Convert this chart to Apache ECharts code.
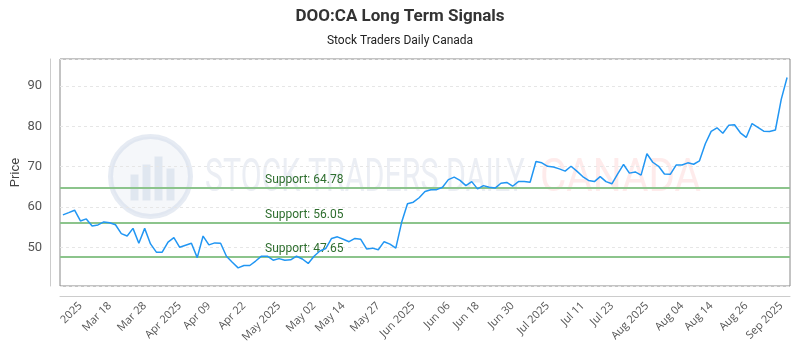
<!DOCTYPE html>
<html><head><meta charset="utf-8">
<script src="https://cdn.jsdelivr.net/npm/echarts@6/dist/echarts.min.js"></script>
<style>html,body{margin:0;padding:0;background:#fff}#c{width:800px;height:350px}</style>
</head><body><div id="c"></div>
<script>
const titleText = 'DOO:CA Long Term Signals';
const subtitleText = 'Stock Traders Daily Canada';
const yAxisName = 'Price';
const prices = [
58.05,58.6,59.2,56.55,57.05,55.3,55.55,56.3,56.1,55.6,
53.4,52.8,54.7,51.0,54.7,50.85,48.8,48.8,51.3,52.4,
50.0,50.5,51.0,47.45,52.8,50.6,51.1,51.0,47.8,46.3,
44.9,45.5,45.5,46.6,47.8,47.8,46.8,47.2,46.8,46.9,
47.8,47.1,46.0,47.8,49.1,49.7,52.2,52.6,52.0,51.4,
52.2,52.0,49.6,49.8,49.4,51.4,50.8,49.8,56.2,60.8,
61.2,62.3,63.85,64.3,64.3,64.9,66.8,67.4,66.6,65.3,
66.3,64.5,65.3,64.9,64.7,65.9,66.1,65.15,66.3,66.3,
66.15,71.3,70.95,70.1,69.9,69.45,68.9,70.1,68.9,67.55,
66.6,66.3,67.55,66.3,65.75,68.2,70.55,68.4,68.7,67.9,
73.2,71.1,70.1,68.2,68.1,70.4,70.4,70.95,70.6,71.45,
75.7,78.75,79.65,78.3,80.25,80.4,78.4,77.25,80.7,79.75,
78.8,78.75,79.1,86.7,92.1
];
const tickLabels = ['2025','Mar 18','Mar 28','Apr 2025','Apr 09','Apr 22','May 2025','May 02','May 14','May 27','Jun 2025','Jun 06','Jun 18','Jun 30','Jul 2025','Jul 11','Jul 23','Aug 2025','Aug 04','Aug 14','Aug 26','Sep 2025'];
const tickIndex = [3,8,14,20,25,31,37,43,48,54,60,66,71,77,83,89,94,100,106,111,117,123];
const supportLevels = [64.78, 56.05, 47.65];

const categories = prices.map((_, i) => {
  const k = tickIndex.indexOf(i);
  return k >= 0 ? tickLabels[k] : '';
});
const yMin = Math.min(...prices) * 0.9;
const yMax = Math.max(...prices) * 1.05;

const chart = echarts.init(document.getElementById('c'), null, {renderer: 'canvas'});
const font = 'Roboto, "Noto Sans", sans-serif';
const wmFont = '46px Roboto, sans-serif';
chart.setOption({
  animation: false,
  backgroundColor: '#fff',
  title: [
    {text: titleText, left: 'center', top: 3, textStyle: {fontFamily: font, fontSize: 17, fontWeight: 'bold', color: '#333'}},
    {text: subtitleText, left: 'center', top: 30, textStyle: {fontFamily: font, fontSize: 12, fontWeight: 'normal', color: '#222'}}
  ],
  graphic: [
    {type: 'group', left: 108, top: 134, silent: true, z: 0, children: [
      {type: 'circle', shape: {cx: 42, cy: 42, r: 40}, style: {fill: 'rgba(225,232,242,0.35)', stroke: 'rgba(205,215,232,0.5)', lineWidth: 5}},
      {type: 'rect', shape: {x: 22, y: 40, width: 8, height: 26}, style: {fill: 'rgba(200,210,228,0.45)'}},
      {type: 'rect', shape: {x: 34, y: 30, width: 8, height: 36}, style: {fill: 'rgba(200,210,228,0.45)'}},
      {type: 'rect', shape: {x: 46, y: 22, width: 8, height: 44}, style: {fill: 'rgba(200,210,228,0.45)'}},
      {type: 'rect', shape: {x: 58, y: 34, width: 8, height: 32}, style: {fill: 'rgba(200,210,228,0.45)'}}
    ]},
    {type: 'text', x: 205, y: 156, scaleX: 0.66, silent: true, z: 0, style: {text: 'STOCK TRADERS DAILY', font: wmFont, fill: 'rgba(215,222,234,0.5)'}},
    {type: 'text', x: 540, y: 156, scaleX: 0.88, silent: true, z: 0, style: {text: 'CANADA', font: wmFont, fill: 'rgba(252,205,205,0.4)'}}
  ],
  grid: {left: 60, right: 10, top: 59, bottom: 64, outerBoundsMode: 'none', containLabel: false, show: true, borderColor: '#888', borderWidth: 1, backgroundColor: 'transparent'},
  xAxis: {
    type: 'category', data: categories, boundaryGap: true, offset: 10,
    axisLine: {show: true, lineStyle: {color: '#ccc'}},
    axisTick: {show: false},
    axisLabel: {rotate: 45, interval: (i) => tickIndex.indexOf(i) >= 0, color: '#555', fontFamily: '"Open Sans", sans-serif', fontSize: 11, margin: 8},
    splitLine: {show: false}
  },
  yAxis: {
    type: 'value', min: yMin, max: yMax, splitNumber: 5, offset: 10,
    name: yAxisName, nameLocation: 'middle', nameGap: 28, nameMoveOverlap: false,
    nameTextStyle: {color: '#444', fontFamily: font, fontSize: 13},
    axisLine: {show: true, lineStyle: {color: '#ccc'}},
    axisTick: {show: false},
    axisLabel: {color: '#555', fontFamily: font, fontSize: 13, showMinLabel: false, showMaxLabel: false},
    splitLine: {show: true, lineStyle: {color: '#e6e6e6', type: [3, 3]}}
  },
  series: [{
    type: 'line', data: prices, showSymbol: false, symbol: 'none', z: 3,
    lineStyle: {color: '#2196f3', width: 1.5},
    markLine: {
      silent: true, symbol: 'none', z: 2,
      lineStyle: {color: '#8cc48c', width: 2, type: 'solid'},
      label: {position: 'insideStartTop', distance: 2, padding: [0, 0, 0, 203], color: '#2e6e2e', fontFamily: font, fontSize: 12,
        formatter: (p) => 'Support: ' + p.value.toFixed(2)},
      data: supportLevels.map(v => ({yAxis: v}))
    }
  }]
});
</script></body></html>
